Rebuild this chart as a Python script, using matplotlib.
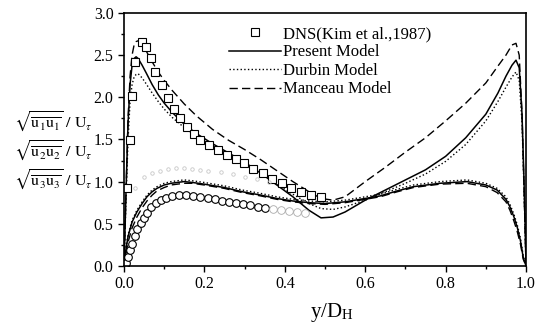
import matplotlib
matplotlib.use("Agg")
import matplotlib.pyplot as plt
from matplotlib.ticker import MultipleLocator

plt.rcParams['font.family'] = ['Liberation Serif', 'DejaVu Serif']
plt.rcParams['mathtext.fontset'] = 'stix'

# DNS u1 (squares)
sq_x = [0.003, 0.007, 0.015, 0.02, 0.027, 0.045, 0.055, 0.067, 0.077, 0.094, 0.109, 0.124, 0.139,
        0.157, 0.174, 0.19, 0.212, 0.234, 0.256, 0.278, 0.299, 0.321, 0.346, 0.368, 0.393, 0.415,
        0.44, 0.465, 0.49]
sq_y = [0.05, 0.93, 1.49, 2.02, 2.42, 2.66, 2.6, 2.46, 2.3, 2.14, 1.99, 1.86, 1.76, 1.65, 1.57,
        1.49, 1.43, 1.37, 1.32, 1.27, 1.22, 1.15, 1.10, 1.03, 0.98, 0.93, 0.88, 0.84, 0.82]

# DNS u2 (circles)
ci_x = [0.005, 0.01, 0.015, 0.02, 0.027, 0.032, 0.042, 0.05, 0.057, 0.067, 0.08, 0.092, 0.104,
        0.119, 0.137, 0.154, 0.172, 0.19, 0.209, 0.226, 0.243, 0.261, 0.279, 0.296, 0.314, 0.332, 0.35]
ci_y = [0.03, 0.1, 0.19, 0.26, 0.35, 0.44, 0.51, 0.57, 0.63, 0.70, 0.75, 0.78, 0.81, 0.83, 0.84,
        0.84, 0.83, 0.82, 0.81, 0.79, 0.77, 0.76, 0.75, 0.74, 0.72, 0.70, 0.69]
ci2_x = [0.37, 0.39, 0.41, 0.43, 0.45]
ci2_y = [0.67, 0.66, 0.65, 0.64, 0.63]

# DNS u3 (faint markers)
w_x = [0.027, 0.05, 0.07, 0.09, 0.11, 0.13, 0.15, 0.17, 0.19, 0.21, 0.24, 0.27, 0.3, 0.33, 0.36]
w_y = [0.93, 1.05, 1.1, 1.13, 1.15, 1.16, 1.16, 1.15, 1.14, 1.13, 1.11, 1.09, 1.06, 1.03, 1.0]

# u1 model curves
u1_x = [0, 0.005, 0.01, 0.015, 0.02, 0.025, 0.03, 0.035, 0.045, 0.055, 0.07, 0.085, 0.1, 0.12,
        0.15, 0.18, 0.22, 0.26, 0.3, 0.34, 0.38, 0.42, 0.46, 0.49, 0.52, 0.55, 0.6, 0.65, 0.7,
        0.75, 0.8, 0.85, 0.9, 0.93, 0.95, 0.965, 0.975, 0.983, 0.99, 0.995, 1.0]
u1_present = [0, 0.9, 1.7, 2.15, 2.38, 2.46, 2.48, 2.46, 2.38, 2.29, 2.15, 2.03, 1.93, 1.82,
              1.68, 1.57, 1.45, 1.34, 1.23, 1.1, 0.96, 0.82, 0.66, 0.57, 0.58, 0.64, 0.78, 0.9,
              1.02, 1.14, 1.3, 1.52, 1.8, 2.05, 2.25, 2.38, 2.44, 2.35, 1.8, 1.0, 0]
u1_durbin = [0, 0.8, 1.5, 1.95, 2.15, 2.24, 2.27, 2.28, 2.23, 2.16, 2.05, 1.95, 1.86, 1.76,
             1.64, 1.54, 1.42, 1.31, 1.22, 1.1, 0.97, 0.85, 0.74, 0.68, 0.67, 0.7, 0.78, 0.88,
             0.98, 1.09, 1.24, 1.44, 1.72, 1.95, 2.12, 2.24, 2.3, 2.2, 1.7, 0.9, 0]
u1_manceau = [0, 0.9, 1.75, 2.25, 2.5, 2.62, 2.66, 2.67, 2.63, 2.55, 2.42, 2.3, 2.2, 2.08,
              1.92, 1.78, 1.62, 1.49, 1.38, 1.26, 1.13, 1.0, 0.88, 0.8, 0.78, 0.82, 1.0, 1.17,
              1.35, 1.52, 1.72, 1.93, 2.17, 2.37, 2.5, 2.62, 2.64, 2.5, 1.8, 0.9, 0]

# u3 model curves
u3_x = [0, 0.005, 0.01, 0.02, 0.032, 0.045, 0.057, 0.07, 0.082, 0.1, 0.117, 0.149, 0.17, 0.199,
        0.249, 0.294, 0.34, 0.38, 0.42, 0.46, 0.5, 0.55, 0.6, 0.637, 0.68, 0.72, 0.786, 0.853,
        0.9, 0.928, 0.95, 0.96, 0.97, 0.978, 0.986, 0.993, 1.0]
u3_present = [0, 0.2, 0.35, 0.52, 0.64, 0.74, 0.82, 0.88, 0.92, 0.96, 0.98, 1.0, 0.99, 0.97,
              0.93, 0.88, 0.84, 0.8, 0.77, 0.75, 0.74, 0.76, 0.8, 0.83, 0.89, 0.94, 0.98, 1.0,
              0.96, 0.9, 0.79, 0.7, 0.58, 0.46, 0.3, 0.1, 0]
u3_durbin = [0, 0.22, 0.37, 0.54, 0.66, 0.76, 0.84, 0.9, 0.94, 0.98, 1.0, 1.02, 1.01, 0.99,
             0.95, 0.9, 0.86, 0.82, 0.79, 0.77, 0.76, 0.78, 0.82, 0.85, 0.91, 0.96, 1.0, 1.02,
             0.98, 0.92, 0.82, 0.73, 0.61, 0.49, 0.33, 0.12, 0]
u3_manceau = [0, 0.15, 0.28, 0.45, 0.58, 0.69, 0.77, 0.84, 0.89, 0.93, 0.96, 0.98, 0.98, 0.96,
              0.92, 0.87, 0.83, 0.79, 0.76, 0.74, 0.73, 0.75, 0.79, 0.82, 0.88, 0.93, 0.97, 0.98,
              0.94, 0.87, 0.76, 0.66, 0.53, 0.41, 0.26, 0.08, 0]

legend_labels = ['DNS(Kim et al.,1987)', 'Present Model', 'Durbin Model', 'Manceau Model']

fig = plt.figure(figsize=(5.44, 3.32), dpi=100)
ax = fig.add_axes([0.228, 0.199, 0.739, 0.762])

dash = (0, (6, 3))
ax.plot(u1_x, u1_present, '-', color='black', lw=1.1)
ax.plot(u1_x, u1_durbin, ':', color='black', lw=1.0)
ax.plot(u1_x, u1_manceau, color='black', lw=1.0, linestyle=dash)
ax.plot(u3_x, u3_present, '-', color='black', lw=1.1)
ax.plot(u3_x, u3_durbin, ':', color='black', lw=1.0)
ax.plot(u3_x, u3_manceau, color='black', lw=1.0, linestyle=dash)

ax.plot(sq_x, sq_y, 's', mfc='white', mec='black', mew=0.8, ms=6, ls='none')
ax.plot(ci_x, ci_y, 'o', mfc='white', mec='black', mew=0.8, ms=5.5, ls='none')
ax.plot(ci2_x, ci2_y, 'o', mfc='none', mec='#aaaaaa', mew=0.6, ms=5.5, ls='none')
ax.plot(w_x, w_y, 'o', mfc='none', mec='#c8c8c8', mew=0.6, ms=2.5, ls='none')

# legend handles
from matplotlib.lines import Line2D
handles = [Line2D([], [], marker='s', mfc='white', mec='black', mew=0.8, ms=6, ls='none'),
           Line2D([], [], color='black', lw=1.1, ls='-'),
           Line2D([], [], color='black', lw=1.0, ls=':'),
           Line2D([], [], color='black', lw=1.0, linestyle=dash)]
ax.legend(handles, legend_labels, loc='upper left', bbox_to_anchor=(0.245, 0.975),
          frameon=False, fontsize=12, handlelength=3.1, handletextpad=0.15,
          labelspacing=0.15, borderaxespad=0, numpoints=1)

ax.set_xlim(0, 1.0)
ax.set_ylim(0, 3.0)
ax.xaxis.set_major_locator(MultipleLocator(0.2))
ax.xaxis.set_minor_locator(MultipleLocator(0.1))
ax.yaxis.set_major_locator(MultipleLocator(0.5))
ax.yaxis.set_minor_locator(MultipleLocator(0.25))
ax.xaxis.set_major_formatter(matplotlib.ticker.FormatStrFormatter('%.1f'))
ax.yaxis.set_major_formatter(matplotlib.ticker.FormatStrFormatter('%.1f'))
ax.tick_params(which='both', direction='out', top=False, right=False, labelsize=11.5)
ax.tick_params(which='major', length=4, width=1)
ax.tick_params(which='minor', length=2.5, width=1)
for s in ax.spines.values():
    s.set_linewidth(1.2)

ax.set_xlabel(r'y/D$_\mathregular{H}$', fontsize=15, labelpad=6)
ax.xaxis.label.set_x(0.518)

ylabels = [r'$\sqrt{\overline{\mathrm{u}_1\mathrm{u}_1}}\ /\ \mathrm{U}_\tau$',
           r'$\sqrt{\overline{\mathrm{u}_2\mathrm{u}_2}}\ /\ \mathrm{U}_\tau$',
           r'$\sqrt{\overline{\mathrm{u}_3\mathrm{u}_3}}\ /\ \mathrm{U}_\tau$']
for lab, yp in zip(ylabels, [122, 151, 180]):
    fig.text(14 / 544, 1 - yp / 332, lab, fontsize=11.5, va='center', ha='left')

fig.savefig('out.png', dpi=100)
